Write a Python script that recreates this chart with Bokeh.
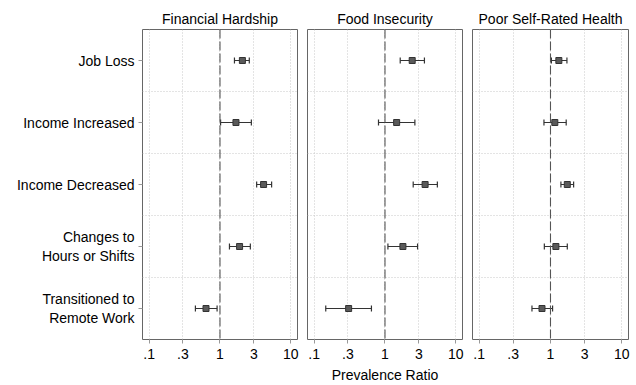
import numpy as np
from bokeh.plotting import figure
from bokeh.layouts import row
from bokeh.models import Range1d, FixedTicker, ColumnDataSource, Whisker, TeeHead, Span
from bokeh.embed import file_html
from bokeh.resources import INLINE

categories = ["Job Loss", "Income Increased", "Income Decreased",
              "Changes to\nHours or Shifts", "Transitioned to\nRemote Work"]
panels = ["Financial Hardship", "Food Insecurity", "Poor Self-Rated Health"]

fin_pr = [2.07, 1.68, 4.12, 1.89, 0.635]
fin_lo = [1.60, 1.02, 3.29, 1.36, 0.45]
fin_hi = [2.59, 2.77, 5.35, 2.68, 0.91]

food_pr = [2.42, 1.46, 3.68, 1.79, 0.307]
food_lo = [1.64, 0.81, 2.50, 1.10, 0.146]
food_hi = [3.60, 2.64, 5.48, 2.88, 0.644]

hlth_pr = [1.31, 1.15, 1.72, 1.19, 0.76]
hlth_lo = [1.03, 0.81, 1.40, 0.82, 0.55]
hlth_hi = [1.70, 1.66, 2.11, 1.72, 1.07]

x_ticks = [0.1, 0.3, 1, 3, 10]
x_tick_labels = [".1", ".3", "1", "3", "10"]

FONT = "Liberation Sans"
series = [(fin_pr, fin_lo, fin_hi), (food_pr, food_lo, food_hi), (hlth_pr, hlth_lo, hlth_hi)]
ypos = list(range(1, len(categories) + 1))

figs = []
for i, (title, (pr, lo, hi)) in enumerate(zip(panels, series)):
    if i == 0:
        w, bl, br = 302, 142, 5
    elif i == 1:
        w, bl, br = 166, 5, 6
    else:
        w, bl, br = 166, 4, 6
    p = figure(width=w, height=385, x_axis_type="log",
               x_range=Range1d(0.0807, 12.4), y_range=Range1d(5.5, 0.5),
               output_backend="svg", toolbar_location=None, title=title,
               min_border_left=bl, min_border_right=br,
               min_border_top=29, min_border_bottom=46)
    p.title.align = "center"
    p.title.text_font = FONT
    p.title.text_font_size = "14px"
    p.title.text_font_style = "normal"
    p.title.text_color = "black"
    p.title.standoff = 5
    p.outline_line_color = "#666666"
    p.outline_line_width = 1
    p.background_fill_color = "white"

    # x axis
    p.xaxis.ticker = FixedTicker(ticks=x_ticks)
    p.xaxis.major_label_overrides = dict(zip(x_ticks, x_tick_labels))
    p.xaxis.minor_tick_line_color = None
    p.xaxis.major_tick_out = 4
    p.xaxis.major_tick_in = 0
    p.xaxis.major_tick_line_color = "#999999"
    p.xaxis.axis_line_color = None
    p.xaxis.major_label_text_font = FONT
    p.xaxis.major_label_text_font_size = "14px"
    p.xaxis.major_label_text_color = "black"
    p.xaxis.major_label_standoff = 5
    if i == 1:
        p.xaxis.axis_label = "Prevalence Ratio"
        p.xaxis.axis_label_text_font = FONT
        p.xaxis.axis_label_text_font_size = "14px"
        p.xaxis.axis_label_text_font_style = "normal"
        p.xaxis.axis_label_text_color = "black"
        p.xaxis.axis_label_standoff = 5

    # y axis
    p.yaxis.ticker = FixedTicker(ticks=ypos)
    p.yaxis.major_label_overrides = dict(zip(ypos, categories))
    p.yaxis.minor_tick_line_color = None
    p.yaxis.major_tick_out = 4
    p.yaxis.major_tick_in = 0
    p.yaxis.major_tick_line_color = "#999999"
    p.yaxis.axis_line_color = None
    p.yaxis.major_label_text_font = FONT
    p.yaxis.major_label_text_font_size = "14px"
    p.yaxis.major_label_text_color = "black"
    p.yaxis.major_label_standoff = 4
    if i > 0:
        p.yaxis.visible = False

    p.xgrid.ticker = FixedTicker(ticks=x_ticks)
    p.ygrid.ticker = FixedTicker(ticks=[1.5, 2.5, 3.5, 4.5])
    for g in (p.xgrid, p.ygrid):
        g.grid_line_color = "#c8c8c8"
        g.grid_line_dash = "1 2"
        g.grid_line_width = 1

    p.add_layout(Span(location=1, dimension="height", line_color="#555555",
                      line_dash="9 3", line_width=1.1))

    src = ColumnDataSource(dict(y=ypos, pr=pr, lo=lo, hi=hi))
    wh = Whisker(source=src, base="y", lower="lo", upper="hi", dimension="width",
                 line_color="#333333", line_width=1.2,
                 lower_head=TeeHead(size=6, line_color="#333333", line_width=1.2),
                 upper_head=TeeHead(size=6, line_color="#333333", line_width=1.2))
    p.add_layout(wh)
    p.scatter("pr", "y", source=src, marker="square", size=6,
              fill_color="#5a5a5a", line_color="#333333", line_width=1)
    figs.append(p)

layout = row(*figs, spacing=0)
open("out.html", "w").write(file_html(layout, INLINE))
